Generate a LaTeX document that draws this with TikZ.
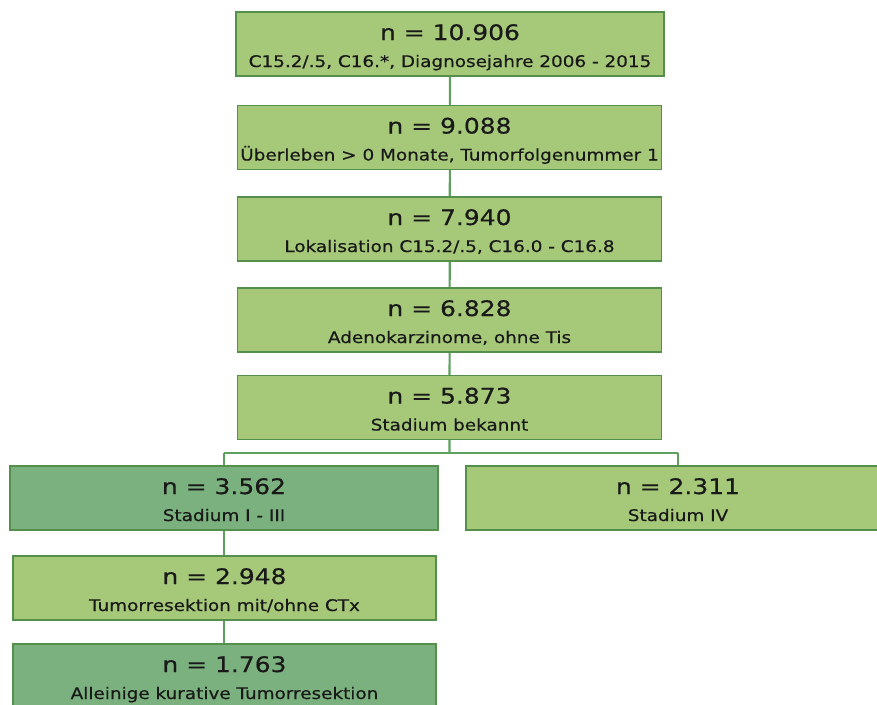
\documentclass[tikz,border=0pt]{standalone}
\usepackage{fontspec}
\setmainfont{DejaVu Sans}
\newfontfamily\countfont[FakeStretch=1.17,FakeBold=0.5]{DejaVu Sans}
\newfontfamily\notefont[FakeStretch=1.15,FakeBold=0.5]{DejaVu Sans}
\usepackage{tikz}
\usetikzlibrary{positioning}

\definecolor{boxlight}{HTML}{A6C879}
\definecolor{boxdark}{HTML}{7BB17F}
\definecolor{boxline}{HTML}{558F4C}
\definecolor{connline}{HTML}{5EA05F}

\newcommand{\cohort}[2]{\raisebox{0pt}[15pt][0pt]{\countfont\fontsize{16}{18}\selectfont #1}\\[8.25pt]%
    \raisebox{0pt}[9pt][0.75pt]{\notefont\fontsize{12}{14}\selectfont #2}}

\begin{document}
\begin{tikzpicture}[x=0.75pt,y=-0.75pt,
    stepbox/.style={draw=boxline, line width=1.3pt, fill=boxlight, align=center,
        minimum width=318pt, minimum height=48pt, inner sep=0pt, text=black!90},
    darkbox/.style={stepbox, fill=boxdark},
    conn/.style={draw=connline, line width=1.6pt}]
    \useasboundingbox (0,0) rectangle (877,704);
    \clip (0,0) rectangle (877,704);

    % connectors first, boxes on top
    \coordinate (fork) at (449.5,453);
    \draw[conn] (450,44) -- (449.5,407.5) -- (fork);
    \draw[conn] (224,453) -- (678,453);
    \draw[conn] (224,453) -- (224,676);
    \draw[conn] (678,453) -- (678,498);

    \node[stepbox, minimum width=321pt] (total) at (450,44)
        {\cohort{n = 10.906}{C15.2/.5, C16.*, Diagnosejahre 2006 - 2015}};
    \node[stepbox] (survival) at (449.5,137.5)
        {\cohort{n = 9.088}{Überleben > 0 Monate, Tumorfolgenummer 1}};
    \node[stepbox] (site) at (449.5,229)
        {\cohort{n = 7.940}{Lokalisation C15.2/.5, C16.0 - C16.8}};
    \node[stepbox] (adeno) at (449.5,320)
        {\cohort{n = 6.828}{Adenokarzinome, ohne Tis}};
    \node[stepbox] (staged) at (449.5,407.5)
        {\cohort{n = 5.873}{Stadium bekannt}};

    \node[darkbox, minimum width=321pt] (early) at (224,498)
        {\cohort{n = 3.562}{Stadium I - III}};
    \node[stepbox] (late) at (678,498)
        {\cohort{n = 2.311}{Stadium IV}};
    \node[stepbox, minimum width=317pt] (resect) at (224.5,588)
        {\cohort{n = 2.948}{Tumorresektion mit/ohne CTx}};
    \node[darkbox, minimum width=317pt] (curative) at (224.5,676)
        {\cohort{n = 1.763}{Alleinige kurative Tumorresektion}};
\end{tikzpicture}
\end{document}
